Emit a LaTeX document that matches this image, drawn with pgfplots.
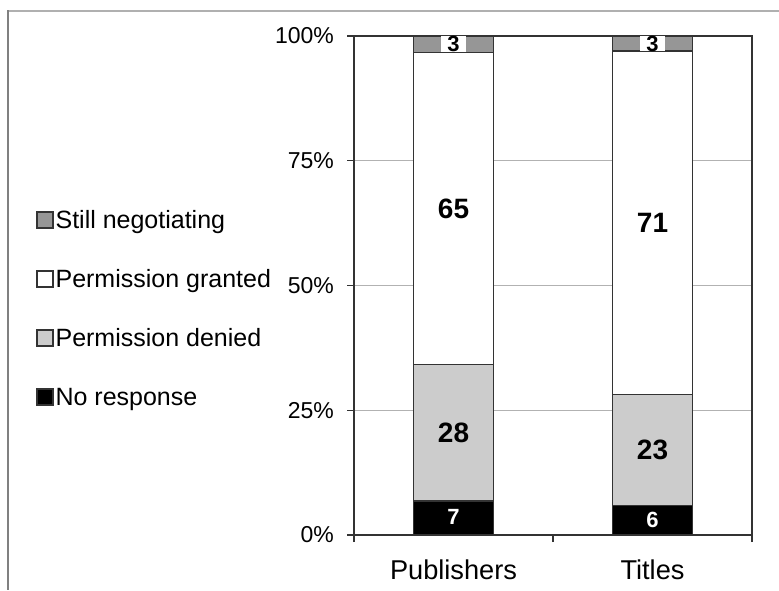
\documentclass[border=0pt]{standalone}
\usepackage{pgfplots}
\pgfplotsset{compat=1.18}
\usepackage{fontspec}
\setmainfont{Liberation Sans}
\definecolor{negot}{HTML}{969696}
\definecolor{denied}{HTML}{CCCCCC}
\definecolor{edge}{HTML}{333333}
\definecolor{frametop}{HTML}{B0B0B0}
\definecolor{frameleft}{HTML}{808080}

\begin{document}
\begin{tikzpicture}
\useasboundingbox (-177pt,-27.5pt) rectangle (212.5pt,267.5pt);
% outer frame of the original figure
\draw[frametop, line width=0.75pt] (-173pt,262pt) -- (212.5pt,262pt);
\draw[frameleft, line width=0.75pt] (-173pt,262.4pt) -- (-173pt,-27.5pt);

\begin{axis}[
    at={(0,0)}, anchor=south west,
    scale only axis, width=199pt, height=249.5pt,
    ybar stacked, bar width=40pt,
    xmin=-0.5, xmax=1.5, ymin=0, ymax=100,
    xtick={-0.5,0.5,1.5}, xticklabels={},
    extra x ticks={0,1}, extra x tick labels={Publishers,Titles},
    extra x tick style={major tick length=0pt},
    ytick={0,25,50,75,100}, yticklabels={0\%,25\%,50\%,75\%,100\%},
    tick align=outside, tick pos=left,
    major tick length=3.5pt,
    tick style={edge, line width=0.6pt},
    axis line style={edge, line width=0.6pt},
    ymajorgrids, major grid style={color=black!30, line width=0.6pt},
    xticklabel style={font=\fontsize{13.6}{16}\selectfont, yshift=-9pt},
    yticklabel style={font=\fontsize{11.5}{13}\selectfont, xshift=-3pt},
    reverse legend,
    legend style={at={(-0.799,0.664)}, anchor=north west, draw=none, fill=none,
        inner sep=0pt, row sep=13.5pt, column sep=1pt,
        font=\fontsize{12.5}{14}\selectfont, cells={anchor=west},
        nodes={inner sep=0pt, text height=12pt, text depth=4pt}},
    legend image code/.code={\draw[#1] (0pt,-4pt) rectangle (8pt,4pt);},
]
\addplot[fill=black, draw=edge, line width=0.6pt] coordinates {(0,6.8) (1,5.9)};
\addplot[fill=denied, draw=edge, line width=0.6pt] coordinates {(0,27.3) (1,22.2)};
\addplot[fill=white, draw=edge, line width=0.6pt] coordinates {(0,62.6) (1,68.9)};
\addplot[fill=negot, draw=edge, line width=0.6pt] coordinates {(0,3.3) (1,3.0)};
\legend{No response, Permission denied, Permission granted, Still negotiating}
\end{axis}

% segment labels, placed at the middle of each segment
\begin{axis}[
    at={(0,0)}, anchor=south west,
    scale only axis, width=199pt, height=249.5pt,
    xmin=-0.5, xmax=1.5, ymin=0, ymax=100,
    hide axis, clip=false,
    ybar, bar width=1pt, bar shift=0pt,
    nodes near coords, point meta=explicit symbolic,
]
\addplot[draw=none, fill=none, every node near coord/.append style={anchor=center, font=\fontsize{14}{16}\selectfont\bfseries}]
    coordinates {(0,20.45) [28] (0,65.4) [65] (1,17.0) [23] (1,62.55) [71]};
\addplot[draw=none, fill=none, every node near coord/.append style={anchor=center, text=white, font=\fontsize{11}{12}\selectfont\bfseries}]
    coordinates {(0,3.6) [7] (1,3.1) [6]};
\addplot[draw=none, fill=none, every node near coord/.append style={anchor=center, fill=white, inner xsep=3pt, inner ysep=0pt, font=\fontsize{11}{12}\selectfont\bfseries}]
    coordinates {(0,98.35) [3] (1,98.5) [3]};
\end{axis}
\end{tikzpicture}
\end{document}
